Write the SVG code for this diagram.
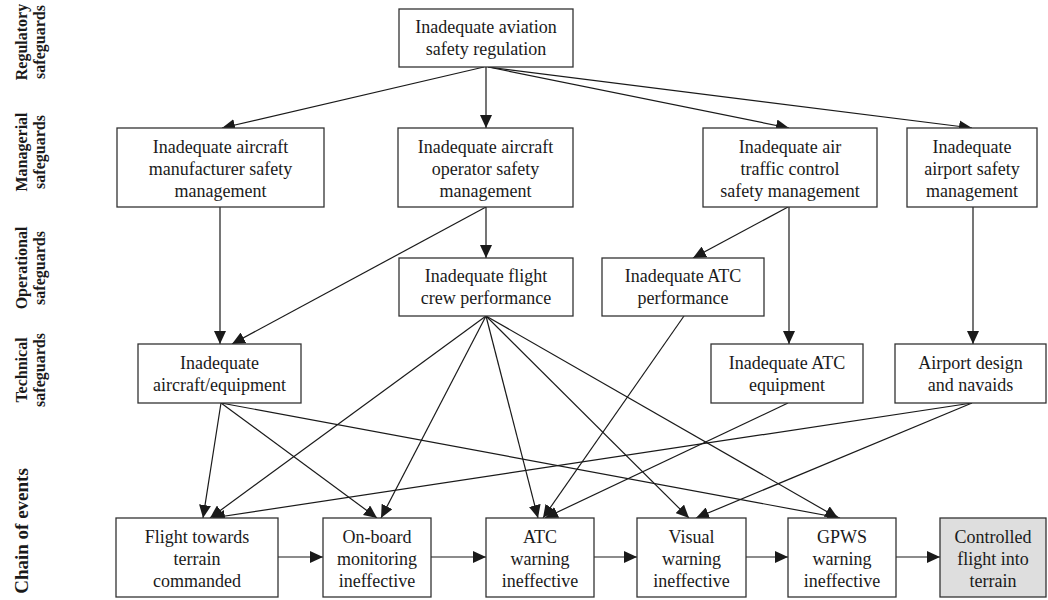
<svg xmlns="http://www.w3.org/2000/svg" width="1048" height="600" viewBox="0 0 1048 600">
  <style>
    .box { fill: #ffffff; stroke: #333333; stroke-width: 1.3; }
    .final { fill: #dedede; }
    .lbl { font-family: "Liberation Serif", "Times New Roman", serif; font-size: 18px; fill: #1a1a1a; text-anchor: middle; }
    .side { font-family: "Liberation Serif", "Times New Roman", serif; font-size: 16px; font-weight: bold; fill: #1a1a1a; text-anchor: middle; }
    .edge { stroke: #1a1a1a; stroke-width: 1.2; fill: none; marker-end: url(#arrow); }
  </style>
  <defs>
    <marker id="arrow" markerUnits="userSpaceOnUse" markerWidth="13" markerHeight="12" refX="13" refY="6" orient="auto">
      <path d="M0,0 L13,6 L0,12 z" fill="#1a1a1a"/>
    </marker>
  </defs>
  <rect width="1048" height="600" fill="#ffffff"/>

  <!-- layer labels on the left -->
  <g id="layer-labels">
    <text class="side" transform="translate(27,42) rotate(-90)">Regulatory</text>
    <text class="side" transform="translate(45,42) rotate(-90)">safeguards</text>
    <text class="side" transform="translate(27,152) rotate(-90)">Managerial</text>
    <text class="side" transform="translate(45,152) rotate(-90)">safeguards</text>
    <text class="side" transform="translate(27,268) rotate(-90)">Operational</text>
    <text class="side" transform="translate(45,268) rotate(-90)">safeguards</text>
    <text class="side" transform="translate(27,370) rotate(-90)">Technical</text>
    <text class="side" transform="translate(45,370) rotate(-90)">safeguards</text>
    <text class="side" transform="translate(28,531) rotate(-90)" style="font-size:19px">Chain of events</text>
  </g>

  <!-- connectors -->
  <g id="connectors">
    <line class="edge" x1="484" y1="67" x2="222" y2="128"/>
    <line class="edge" x1="486" y1="67" x2="486" y2="128"/>
    <line class="edge" x1="488" y1="67" x2="789" y2="128"/>
    <line class="edge" x1="488" y1="67" x2="972" y2="128"/>
    <line class="edge" x1="220" y1="207" x2="220" y2="344"/>
    <line class="edge" x1="486" y1="207" x2="232" y2="344"/>
    <line class="edge" x1="486" y1="207" x2="486" y2="258"/>
    <line class="edge" x1="788" y1="207" x2="693" y2="258"/>
    <line class="edge" x1="789" y1="207" x2="789" y2="344"/>
    <line class="edge" x1="973" y1="207" x2="973" y2="344"/>
    <line class="edge" x1="221" y1="403" x2="203" y2="518"/>
    <line class="edge" x1="221" y1="403" x2="377" y2="518"/>
    <line class="edge" x1="221" y1="403" x2="840" y2="518"/>
    <line class="edge" x1="486" y1="316" x2="210" y2="518"/>
    <line class="edge" x1="486" y1="316" x2="381" y2="518"/>
    <line class="edge" x1="486" y1="316" x2="538" y2="518"/>
    <line class="edge" x1="486" y1="316" x2="689" y2="518"/>
    <line class="edge" x1="486" y1="316" x2="838" y2="518"/>
    <line class="edge" x1="684" y1="316" x2="543" y2="518"/>
    <line class="edge" x1="788" y1="403" x2="545" y2="518"/>
    <line class="edge" x1="972" y1="403" x2="212" y2="518"/>
    <line class="edge" x1="972" y1="403" x2="696" y2="518"/>
    <line class="edge" x1="278" y1="557" x2="323" y2="557"/>
    <line class="edge" x1="431" y1="557" x2="486" y2="557"/>
    <line class="edge" x1="594" y1="557" x2="637" y2="557"/>
    <line class="edge" x1="746" y1="557" x2="788" y2="557"/>
    <line class="edge" x1="896" y1="557" x2="940" y2="557"/>
  </g>

  <!-- regulatory -->
  <g id="reg">
    <rect class="box" x="399" y="9" width="174" height="58"/>
    <text class="lbl" x="486" y="33">Inadequate aviation</text>
    <text class="lbl" x="486" y="55">safety regulation</text>
  </g>

  <!-- managerial -->
  <g id="mgr-manufacturer">
    <rect class="box" x="117" y="128" width="207" height="79"/>
    <text class="lbl" x="220.5" y="153">Inadequate aircraft</text>
    <text class="lbl" x="220.5" y="175">manufacturer safety</text>
    <text class="lbl" x="220.5" y="197">management</text>
  </g>
  <g id="mgr-operator">
    <rect class="box" x="398" y="128" width="175" height="79"/>
    <text class="lbl" x="485.5" y="153">Inadequate aircraft</text>
    <text class="lbl" x="485.5" y="175">operator safety</text>
    <text class="lbl" x="485.5" y="197">management</text>
  </g>
  <g id="mgr-atc">
    <rect class="box" x="703" y="128" width="174" height="79"/>
    <text class="lbl" x="790" y="153">Inadequate air</text>
    <text class="lbl" x="790" y="175">traffic control</text>
    <text class="lbl" x="790" y="197">safety management</text>
  </g>
  <g id="mgr-airport">
    <rect class="box" x="907" y="128" width="130" height="79"/>
    <text class="lbl" x="972" y="153">Inadequate</text>
    <text class="lbl" x="972" y="175">airport safety</text>
    <text class="lbl" x="972" y="197">management</text>
  </g>

  <!-- operational -->
  <g id="op-crew">
    <rect class="box" x="399" y="258" width="174" height="58"/>
    <text class="lbl" x="486" y="282">Inadequate flight</text>
    <text class="lbl" x="486" y="304">crew performance</text>
  </g>
  <g id="op-atc">
    <rect class="box" x="602" y="258" width="162" height="58"/>
    <text class="lbl" x="683" y="282">Inadequate ATC</text>
    <text class="lbl" x="683" y="304">performance</text>
  </g>

  <!-- technical -->
  <g id="tech-aircraft">
    <rect class="box" x="138" y="344" width="163" height="59"/>
    <text class="lbl" x="219.5" y="368.5">Inadequate</text>
    <text class="lbl" x="219.5" y="390.5">aircraft/equipment</text>
  </g>
  <g id="tech-atc">
    <rect class="box" x="711" y="344" width="152" height="59"/>
    <text class="lbl" x="787" y="368.5">Inadequate ATC</text>
    <text class="lbl" x="787" y="390.5">equipment</text>
  </g>
  <g id="tech-airport">
    <rect class="box" x="895" y="344" width="151" height="59"/>
    <text class="lbl" x="970.5" y="368.5">Airport design</text>
    <text class="lbl" x="970.5" y="390.5">and navaids</text>
  </g>

  <!-- chain of events -->
  <g id="ev-flight">
    <rect class="box" x="116" y="518" width="162" height="79"/>
    <text class="lbl" x="197" y="543">Flight towards</text>
    <text class="lbl" x="197" y="565">terrain</text>
    <text class="lbl" x="197" y="587">commanded</text>
  </g>
  <g id="ev-onboard">
    <rect class="box" x="323" y="518" width="108" height="79"/>
    <text class="lbl" x="377" y="543">On-board</text>
    <text class="lbl" x="377" y="565">monitoring</text>
    <text class="lbl" x="377" y="587">ineffective</text>
  </g>
  <g id="ev-atc">
    <rect class="box" x="486" y="518" width="108" height="79"/>
    <text class="lbl" x="540" y="543">ATC</text>
    <text class="lbl" x="540" y="565">warning</text>
    <text class="lbl" x="540" y="587">ineffective</text>
  </g>
  <g id="ev-visual">
    <rect class="box" x="637" y="518" width="109" height="79"/>
    <text class="lbl" x="691.5" y="543">Visual</text>
    <text class="lbl" x="691.5" y="565">warning</text>
    <text class="lbl" x="691.5" y="587">ineffective</text>
  </g>
  <g id="ev-gpws">
    <rect class="box" x="788" y="518" width="108" height="79"/>
    <text class="lbl" x="842" y="543">GPWS</text>
    <text class="lbl" x="842" y="565">warning</text>
    <text class="lbl" x="842" y="587">ineffective</text>
  </g>
  <g id="ev-cfit">
    <rect class="box final" x="940" y="518" width="106" height="79"/>
    <text class="lbl" x="993" y="543">Controlled</text>
    <text class="lbl" x="993" y="565">flight into</text>
    <text class="lbl" x="993" y="587">terrain</text>
  </g>
</svg>
